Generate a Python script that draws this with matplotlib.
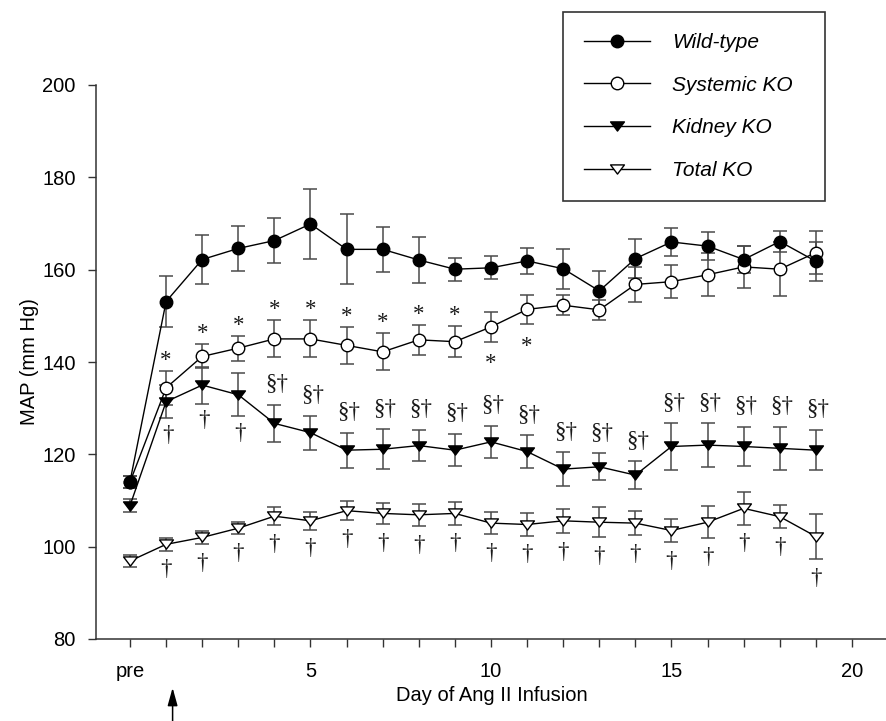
import matplotlib
matplotlib.use('Agg')
import matplotlib.pyplot as plt
from matplotlib.path import Path

# ---- data (MAP, mean +/- SEM) ----
days = list(range(20))  # 0 = pre
tick_days = list(range(21))
tick_text = {0: 'pre', 5: '5', 10: '10', 15: '15', 20: '20'}

wt_mean = [114.1, 153.1, 162.2, 164.6, 166.3, 169.9, 164.4, 164.4, 162.1, 160.1,
           160.4, 161.9, 160.2, 155.4, 162.4, 166.0, 165.1, 162.2, 166.1, 161.8]
wt_sem = [1.3, 5.5, 5.4, 4.8, 4.8, 7.6, 7.6, 4.8, 4.9, 2.5,
          2.5, 2.9, 4.3, 4.4, 4.3, 3.0, 3.0, 3.0, 2.2, 4.2]

sys_mean = [114.0, 134.4, 141.2, 143.0, 145.0, 145.0, 143.6, 142.2, 144.8, 144.4,
            147.6, 151.4, 152.3, 151.3, 156.8, 157.4, 158.9, 160.6, 160.1, 163.7]
sys_sem = [1.3, 3.7, 2.6, 2.7, 4.0, 4.0, 4.0, 4.0, 3.3, 3.3,
           3.2, 3.2, 2.2, 2.2, 3.8, 3.6, 4.7, 4.5, 5.8, 4.6]

kid_mean = [108.9, 131.4, 135.0, 132.9, 126.7, 124.7, 120.9, 121.1, 121.9, 120.9,
            122.7, 120.6, 116.8, 117.3, 115.5, 121.7, 122.0, 121.7, 121.3, 120.9]
kid_sem = [1.4, 3.6, 4.0, 4.7, 4.0, 3.7, 3.8, 4.3, 3.4, 3.5,
           3.5, 3.5, 3.6, 2.9, 3.0, 5.0, 4.7, 4.2, 4.7, 4.4]

tot_mean = [96.9, 100.5, 102.0, 104.0, 106.6, 105.6, 107.8, 107.2, 106.9, 107.2,
            105.1, 104.8, 105.6, 105.3, 105.1, 103.5, 105.3, 108.3, 106.5, 102.2]
tot_sem = [1.35, 1.35, 1.5, 1.3, 2.0, 1.9, 2.0, 2.3, 2.4, 2.4,
           2.4, 2.4, 2.6, 3.3, 2.6, 2.5, 3.5, 3.5, 2.5, 4.9]

# significance marks (which days carry which symbol)
sys_star_above = [1, 2, 3, 4, 5, 6, 7, 8, 9]
sys_star_below = [10, 11]
kid_sect_above = list(range(4, 20))
kid_dag_below = [1, 2, 3]
tot_dag_below = list(range(1, 20))

arrow_day = 1.18  # start of Ang II infusion

# ---- style ----
plt.rcParams['font.family'] = ['Liberation Sans', 'DejaVu Sans']
plt.rcParams['font.size'] = 14.5
sym_font = 'Liberation Serif'

# wide, flat down-triangle like the original
tri_down = Path([(-1, 0.66), (1, 0.66), (0, -0.66), (-1, 0.66)],
                [Path.MOVETO, Path.LINETO, Path.LINETO, Path.CLOSEPOLY])

fig = plt.figure(figsize=(8.87, 7.21), dpi=100)
ax = fig.add_axes([95.7 / 887, 82 / 721, (887 - 95.7) / 887, 554 / 721])

series = [
    ('Wild-type', wt_mean, wt_sem, 'o', 'black', 9, 5),
    ('Systemic KO', sys_mean, sys_sem, 'o', 'white', 9, 4),
    ('Kidney KO', kid_mean, kid_sem, tri_down, 'black', 10, 4),
    ('Total KO', tot_mean, tot_sem, tri_down, 'white', 10, 4),
]
for name, m, s, mk, fc, ms, z in series:
    ax.errorbar(days, m, yerr=s, fmt='none', ecolor='#4a4a4a', elinewidth=1.1,
                capsize=5.2, capthick=1.1, zorder=2)
    ax.plot(days, m, color='black', lw=1.0, marker=mk, ms=ms, mfc=fc,
            mec='black', mew=1.0, label=name, zorder=z)


def mark(day_list, mean, sem, text, above, offset, dx=0):
    # put a symbol just beyond the end of the error bar
    for d in day_list:
        y = mean[d] + sem[d] if above else mean[d] - sem[d]
        ax.annotate(text, xy=(d, y), xytext=(dx, offset), textcoords='offset points',
                    ha='center', va='center', family=sym_font, fontsize=16.5,
                    color='#1a1a1a', zorder=6)


mark(sys_star_above, sys_mean, sys_sem, '*', True, 7.6)
mark(sys_star_below, sys_mean, sys_sem, '*', False, -15.8)
mark(kid_sect_above, kid_mean, kid_sem, '§†', True, 14.5, dx=1.5)
mark(kid_dag_below, kid_mean, kid_sem, '†', False, -12.5, dx=1.5)
mark(tot_dag_below, tot_mean, tot_sem, '†', False, -13.9)

# axes
ax.set_xlim((95.7 - 130) / 36.1, (887 - 130) / 36.1)
ax.set_ylim(80, 200)
ax.set_xticks(tick_days)
ax.set_xticklabels([tick_text.get(d, '') for d in tick_days])
ax.set_yticks(range(80, 201, 20))
ax.spines['top'].set_visible(False)
ax.spines['right'].set_visible(False)
for sp in ['left', 'bottom']:
    ax.spines[sp].set_linewidth(1.1)
    ax.spines[sp].set_color('#333333')
ax.tick_params(axis='y', direction='out', length=6, width=1.0, pad=8.5, color='#333333')
ax.tick_params(axis='x', direction='out', length=5.5, width=1.0, pad=11, color='#333333')

ax.set_xlabel('Day of Ang II Infusion', labelpad=4)
ax.set_ylabel('MAP (mm Hg)', labelpad=2)

# arrow marking start of infusion
ax.annotate('', xy=(arrow_day, -0.088), xycoords=('data', 'axes fraction'),
            xytext=(arrow_day, -0.15), textcoords=('data', 'axes fraction'),
            arrowprops=dict(arrowstyle='-|>,head_length=0.9,head_width=0.25',
                            color='black', lw=1.1, mutation_scale=12,
                            shrinkA=0, shrinkB=0),
            annotation_clip=False)

leg = ax.legend(loc='upper left',
                bbox_to_anchor=(563 / 887, 1 - 202 / 721, 262 / 887, 190 / 721),
                bbox_transform=fig.transFigure, mode='expand', borderaxespad=0,
                borderpad=1.0, labelspacing=1.14, handlelength=3.2, handletextpad=1.05,
                fancybox=False, edgecolor='#333333', framealpha=1,
                prop={'style': 'italic', 'size': 15})
leg.get_frame().set_linewidth(1.2)

fig.savefig('out.png', dpi=100)
